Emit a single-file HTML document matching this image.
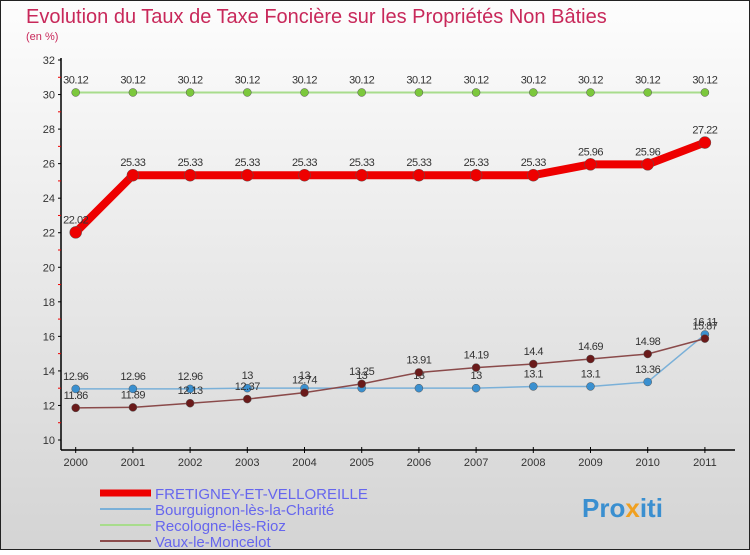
<!DOCTYPE html>
<html><head><meta charset="utf-8"><style>
body{margin:0;width:750px;height:550px;overflow:hidden;font-family:"Liberation Sans",sans-serif}
svg text{font-family:"Liberation Sans",sans-serif}
</style></head><body>
<svg id="c" width="750" height="550" xmlns="http://www.w3.org/2000/svg">
<defs><linearGradient id="bg" x1="0" y1="0" x2="0" y2="1"><stop offset="0" stop-color="#fdfdfd"/><stop offset="1" stop-color="#d4d4d4"/></linearGradient></defs>
<rect x="0.5" y="0.5" width="749" height="549" fill="url(#bg)" stroke="#222"/>
<text x="26" y="23" font-size="20" fill="#c8285a">Evolution du Taux de Taxe Foncière sur les Propriétés Non Bâties</text>
<text x="26" y="40" font-size="11" fill="#c8285a">(en %)</text>
<g id="axes"></g><g id="series"></g><g id="legend"></g>
<text x="582" y="517" font-size="26" font-weight="bold" fill="#3a8fd0">Pro<tspan fill="#f0a020">x</tspan>iti</text>
</svg>
<script>
const years=["2000","2001","2002","2003","2004","2005","2006","2007","2008","2009","2010","2011"];
const yTicks=[10,12,14,16,18,20,22,24,26,28,30,32];
const fretigney=[22.02,25.33,25.33,25.33,25.33,25.33,25.33,25.33,25.33,25.96,25.96,27.22];
const bourguignon=[12.96,12.96,12.96,13,13,13,13,13,13.1,13.1,13.36,16.11];
const recologne=[30.12,30.12,30.12,30.12,30.12,30.12,30.12,30.12,30.12,30.12,30.12,30.12];
const vaux=[11.86,11.89,12.13,12.37,12.74,13.25,13.91,14.19,14.4,14.69,14.98,15.87];
const NS="http://www.w3.org/2000/svg";
const X=i=>75.7+i*57.2;
const Y=v=>440-(v-10)*(380/22);
function mk(tag,attrs,parent,txt){const e=document.createElementNS(NS,tag);for(const k in attrs)e.setAttribute(k,attrs[k]);if(txt!==undefined)e.textContent=txt;parent.appendChild(e);return e;}
const ax=document.getElementById('axes');
let e=mk('line',{x1:61,y1:58,x2:61,y2:450,stroke:'#000','stroke-width':1.5},ax);


e=mk('line',{x1:61,y1:450,x2:735,y2:450,stroke:'#000','stroke-width':1.5},ax);


yTicks.forEach((t,i)=>{
 mk('line',{x1:58,y1:Y(t),x2:61,y2:Y(t),stroke:'#000'},ax);
 if(i<yTicks.length-1)mk('line',{x1:58,y1:Y(t+1),x2:61,y2:Y(t+1),stroke:'#e00'},ax);
 const l=mk('text',{x:55,y:Y(t)+4,'font-size':11,'text-anchor':'end',fill:'#333'},ax,t);
 
 
});
years.forEach((y,i)=>{
 mk('line',{x1:X(i),y1:447,x2:X(i),y2:453,stroke:'#000'},ax);
 const l=mk('text',{x:X(i),y:466,'font-size':11,'text-anchor':'middle',fill:'#333'},ax,y);
 
 
});
const sg=document.getElementById('series');
function series(data,color,w,r,name,dot){
 const p=mk('polyline',{points:data.map((v,i)=>X(i)+','+Y(v)).join(' '),fill:'none',stroke:color,'stroke-width':w,'stroke-linejoin':'round'},sg);
 
 
 data.forEach((v,i)=>{
  const c=mk('circle',{cx:X(i),cy:Y(v),r:r,fill:dot,stroke:'#555','stroke-width':0.5},sg);
  
  
  const t=mk('text',{x:X(i),y:Y(v)-9,'font-size':11,'text-anchor':'middle',fill:'#333','letter-spacing':'-0.5'},sg,v);
  
  
 });
}
series(recologne,'#a8dc8c',2,4,'recologne','#7cc83c');
series(bourguignon,'#7ab0d8',1.5,4,'bourguignon','#3a90d0');
series(vaux,'#8a4a4a',1.5,4,'vaux','#6a1a1a');
series(fretigney,'#ee0000',8,6,'fretigney','#ee0000');
const lg=document.getElementById('legend');
const items=[["FRETIGNEY-ET-VELLOREILLE","#ee0000",7],["Bourguignon-lès-la-Charité","#7ab0d8",2],["Recologne-lès-Rioz","#a8dc8c",2],["Vaux-le-Moncelot","#8a4a4a",2]];
items.forEach((it,i)=>{
 const y=493+i*16;
 const l=mk('line',{x1:100,y1:y,x2:151,y2:y,stroke:it[1],'stroke-width':it[2]},lg);
 
 
 const t=mk('text',{x:155,y:y+6,'font-size':15,fill:'#6666ee'},lg,it[0]);
 
 
});
</script>
</body></html>
